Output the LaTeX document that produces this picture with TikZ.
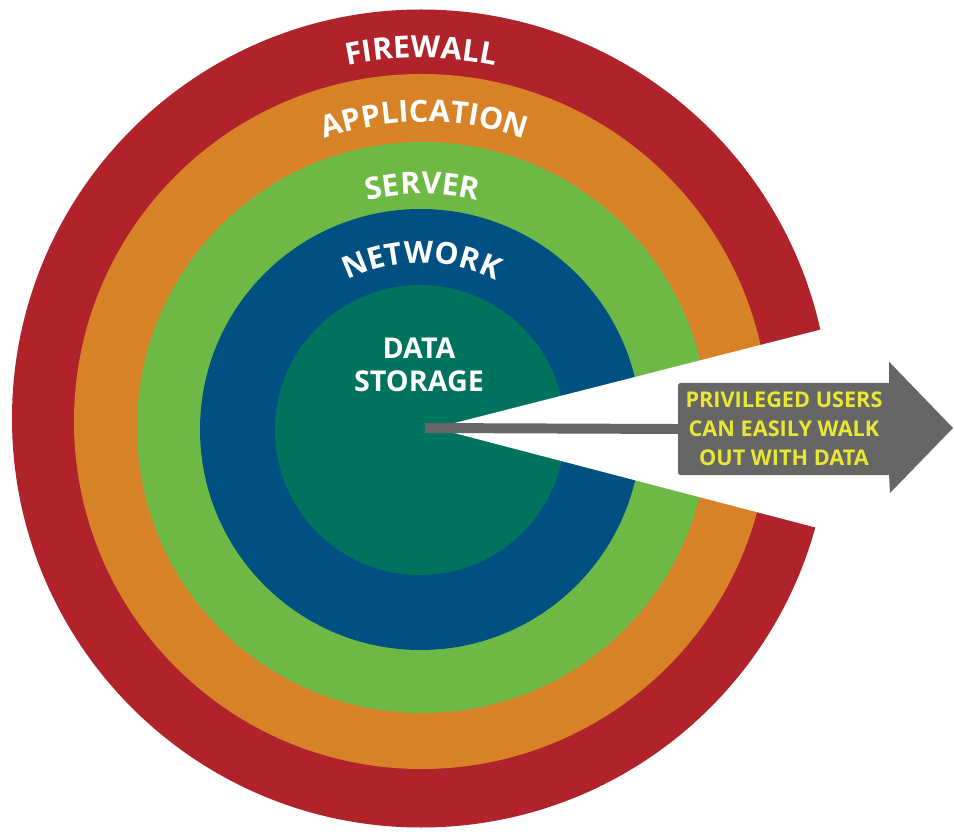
\documentclass[tikz,border=0pt]{standalone}
\usepackage{fontspec}
\setmainfont{Open Sans}
\usetikzlibrary{decorations.text}
\definecolor{fwred}   {RGB}{176, 35, 42}
\definecolor{apporange}{RGB}{216,130, 40}
\definecolor{srvgreen}{RGB}{110,185, 70}
\definecolor{netblue} {RGB}{  0, 80,130}
\definecolor{datateal}{RGB}{  0,115, 95}
\definecolor{arrowgray}{RGB}{102,102,102}
\definecolor{msgyellow}{RGB}{232,232, 52}
\newcommand{\rng}{\bfseries\fontsize{26}{30}\selectfont}
\newcommand{\msgf}{\bfseries\fontsize{18.5}{24.6}\selectfont}

\begin{document}
\begin{tikzpicture}[x=0.03cm, y=0.03cm,
   ringlabel/.style={decorate,
     decoration={text along path, text align=center, text color=white}},
   msgbox/.style={fill=arrowgray, rounded corners=1.5pt, inner sep=0pt,
     minimum width=6.36cm, minimum height=2.76cm, align=center,
     text=msgyellow, font=\msgf}]
   \useasboundingbox (0,0) rectangle (954,833);
 %
   \fill[fwred    ] (421.0,414.5) circle(409.0);
   \fill[apporange] (421.5,411.5) circle(347.5);
   \fill[srvgreen ] (422.5,405.5) circle(285.5);
   \fill[netblue  ] (420.5,403.5) circle(220.5);
   \fill[datateal ] (420.0,403.0) circle(145.0);
 %
   \fill[white] (435,405) -- (874,517) -- (875,290) -- cycle;
 %
   \path[ringlabel, decoration={text={|\rng|FIREWALL}}]
     (421.0,414.5) ++(150:360.5) arc[start angle=150, end angle=30, radius=360.5];
   \path[ringlabel, decoration={text={|\rng|APPLICATION}}]
     (424.5,411.5) ++(150:299.5) arc[start angle=150, end angle=30, radius=299.5];
   \path[ringlabel, decoration={text={|\rng|SERVER}}]
     (422.5,405.5) ++(150:233.5) arc[start angle=150, end angle=30, radius=233.5];
   \path[ringlabel, decoration={text={|\rng|NETWORK}}]
     (421.5,403.5) ++(150:166.5) arc[start angle=150, end angle=30, radius=166.5];
 %
   \node[align=center, text=white, font=\bfseries\fontsize{24.5}{28}\selectfont]
     (store) at (419,468) {DATA\\STORAGE};
 %
   \coordinate (core) at (425,405);
   \node[msgbox] (msg) at (784,404) {PRIVILEGED USERS\\CAN EASILY WALK\\OUT WITH DATA};
   \draw[arrowgray, line width=8.5pt] (core) -- (msg.west);
   \fill[arrowgray] ([xshift=-1pt]msg.north east) -- ++(0,21) -- (953,405)
     -- ++(-63,-65) -- ([xshift=-1pt]msg.south east) -- cycle;
\end{tikzpicture}
\end{document}
